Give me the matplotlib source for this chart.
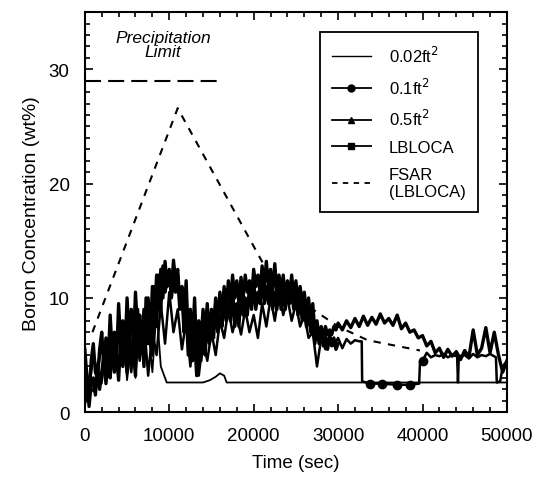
import matplotlib
matplotlib.use("Agg")
import matplotlib.pyplot as plt
import numpy as np
from matplotlib.lines import Line2D
from matplotlib.ticker import MultipleLocator

plt.rcParams['font.family'] = ['Liberation Sans', 'DejaVu Sans']

# 0.5 ft2 break: every 250 s up to 30000 s, then every 500 s
t_05 = list(np.arange(0, 30001, 250)) + list(np.arange(30500, 50001, 500))
b_05 = [5.5, 3, 1.5, 4.5, 6, 3.5, 3, 5.5, 7,
        4, 6.5, 4, 8.5, 5, 7, 4.5, 9.5, 6, 8, 5, 10,
        6.5, 9, 6, 10.5, 7, 8.5, 5.5, 9, 6.5, 10, 6, 11,
        8, 12, 9, 12.5, 10, 13.2, 11, 12, 10.5, 13.3, 11.5, 12.5,
        9.5, 11, 8, 11.5, 6.5, 9, 6, 10, 5, 8, 6, 9,
        7, 9.5, 6.5, 9, 7.5, 10, 8, 10.5, 8.5, 11, 9, 11.5,
        9.5, 12, 10, 11.5, 9.5, 11.8, 10, 12, 10.5, 11.5, 10, 12.5,
        11, 12, 10.5, 12.8, 11, 13.2, 11, 12.5, 10.5, 13, 10.5, 12,
        10.5, 12, 10, 11.5, 10, 12, 10, 11.5, 9.5, 11, 9.5, 10.5,
        8.5, 10, 8, 9.5, 7, 8, 6.5, 7.5, 6.5, 7.5, 6.8, 7.2,
        6.8, 7.5, 7.2, 7.8] + [
        7.2, 8, 7.4, 8.2, 7.5, 8.4, 7.6, 8.3, 7.7, 8.6,
        7.8, 8.2, 7.6, 8.5, 7.3, 7.8, 7.0, 7.2, 6.5, 6.7,
        5.8, 6.2, 5.2, 5.6, 4.8, 5.5, 4.9, 5.3, 4.6, 5.4,
        4.8, 7.2, 5.0, 5.6, 7.4, 5.2, 7.0, 5.0, 3.5, 4.5]

# 0.1 ft2 break
t_01 = list(np.arange(0, 32501, 500)) + [
    32800, 32850, 33800, 35200, 37000, 38500, 39600, 39700, 40000, 40500,
    41000, 41500, 42000, 42500, 43000, 43500, 44100, 44200, 44300, 45000,
    45500, 46000, 46500, 47000, 47500, 48000, 48700, 48800, 49200, 49500,
    50000]
b_01 = [4.5, 2, 5, 3.5, 6, 3, 5.5, 3.8, 7, 4,
        6.5, 3.5, 7.5, 4.5, 8, 3.2, 7, 5, 9.5, 6,
        10.5, 7, 9, 5.5, 8, 4, 7.5, 3.2, 6.5, 4.5,
        7, 5, 8, 6.5, 9, 7, 8.5, 6.8, 9, 7,
        8.5, 6.5, 9.5, 7.5, 10, 8, 10.5, 8.5, 10, 8,
        9.5, 7.5, 8.5, 6.5, 7, 4, 6.5, 5.5, 6.8, 5.8,
        6.5, 5.6, 6.4, 6.0, 6.3, 6.2] + [
    6.2, 2.7, 2.5, 2.5, 2.4, 2.4, 2.5, 4.4, 4.5, 5.2,
    4.8, 5.0, 4.9, 5.1, 4.8, 5.0, 4.9, 2.6, 4.9, 5.0,
    4.7, 5.1, 4.8, 5.0, 4.9, 5.1, 4.8, 2.6, 2.7, 4.0,
    4.5]

# LBLOCA, every 250 s
t_lb = np.arange(0, 30001, 250)
b_lb = [1, 3, 0.5, 2.5, 3, 1.5, 4, 2, 3.5,
        5, 2.5, 4.5, 3, 6, 3.5, 5, 2.8, 6.5, 4, 7, 3.5,
        8, 4.5, 6, 3.2, 9, 5, 7.5, 4, 10, 6, 8.5, 5,
        11, 7.5, 12, 9, 12.8, 10.5, 11.5, 12.5, 10, 11.5, 10.5, 12,
        9, 10.5, 7, 9, 5, 7.5, 4.5, 6.5, 3.2, 6, 4.5, 7,
        5, 8.5, 6, 7.5, 6.5, 9.5, 7, 8.5, 7.5, 10, 8, 9.5,
        8, 11, 7.5, 9.5, 7.5, 10.5, 8.5, 10, 8.5, 11, 9, 11.5,
        9, 10.5, 9.5, 12, 9.5, 11, 9.5, 11.5, 9, 10.5, 9, 11,
        9, 10.5, 9, 11, 9.5, 10.5, 9, 10.5, 8.5, 10, 8, 9.5,
        7.5, 9, 7, 8.5, 6, 7.5, 6, 7, 5.8, 6.8, 5.5, 6.5,
        5.8, 6.5, 5.5, 6]

# 0.02 ft2 break
t_002 = list(np.arange(0, 9501, 500)) + [9700, 14000, 14800, 15500, 16000, 16500, 16800, 50000]
b_002 = [0.5, 2.5, 1.8, 4, 2.5, 5, 3, 6, 3.5, 7,
         2.8, 6, 3, 8, 4, 7.5, 3.5, 9, 4, 3] + [2.6, 2.6, 2.8, 3.1, 3.4, 3.2, 2.6, 2.6]

# FSAR (LBLOCA)
t_fsar = [900, 11000, 21500, 26000, 30000, 33500, 39700]
b_fsar = [7, 26.6, 12.5, 9.5, 7.5, 6.3, 5.4]

# precipitation limit
t_lim = [0, 15600]
b_lim = [29, 29]

fig = plt.figure(figsize=(5.37, 4.89), dpi=100)
ax = fig.add_axes([0.158, 0.155, 0.786, 0.818])

ax.plot(t_lim, b_lim, color='black', lw=1.5, dashes=(7.7, 3.4))
ax.plot(t_fsar, b_fsar, color='black', lw=1.5, dashes=(3.5, 3.5))
ax.plot(t_lb, b_lb, color='black', lw=2.4)
ax.plot(t_05, b_05, color='black', lw=2.4)
ax.plot(t_01, b_01, color='black', lw=1.8, marker='o', ms=6,
        markevery=[68, 69, 70, 71, 74])
ax.plot(t_002, b_002, color='black', lw=1.3)

ax.text(9250, 32.2, 'Precipitation\nLimit', style='italic', fontsize=12.5,
        ha='center', va='center', linespacing=0.95)

handles = [
    Line2D([], [], color='black', lw=1.0),
    Line2D([], [], color='black', lw=1.3, marker='o', ms=5),
    Line2D([], [], color='black', lw=1.3, marker='^', ms=5),
    Line2D([], [], color='black', lw=1.3, marker='s', ms=5),
    Line2D([], [], color='black', lw=1.3, dashes=(3, 3)),
]
labels = ['0.02ft$^2$', '0.1ft$^2$', '0.5ft$^2$', 'LBLOCA', 'FSAR\n(LBLOCA)']
leg = ax.legend(handles, labels, loc='upper right', bbox_to_anchor=(0.932, 0.95),
                borderaxespad=0, fontsize=12, handlelength=2.3, labelspacing=0.7,
                borderpad=0.75, handletextpad=1.1, fancybox=False, framealpha=1,
                edgecolor='black')
leg.get_frame().set_linewidth(1.3)

ax.set_xlim(0, 50000)
ax.set_ylim(0, 35)
ax.xaxis.set_major_locator(MultipleLocator(10000))
ax.xaxis.set_minor_locator(MultipleLocator(2000))
ax.yaxis.set_major_locator(MultipleLocator(10))
ax.yaxis.set_minor_locator(MultipleLocator(1))
ax.tick_params(which='both', direction='in', top=True, right=True,
               labelsize=13.5, pad=11, width=1.2)
ax.tick_params(which='major', length=6)
ax.tick_params(which='minor', length=3.5)
for s in ax.spines.values():
    s.set_linewidth(1.5)

ax.set_xlabel('Time (sec)', fontsize=13.5, labelpad=7)
ax.set_ylabel('Boron Concentration (wt%)', fontsize=14, labelpad=6)

fig.savefig('out.png', dpi=100)
